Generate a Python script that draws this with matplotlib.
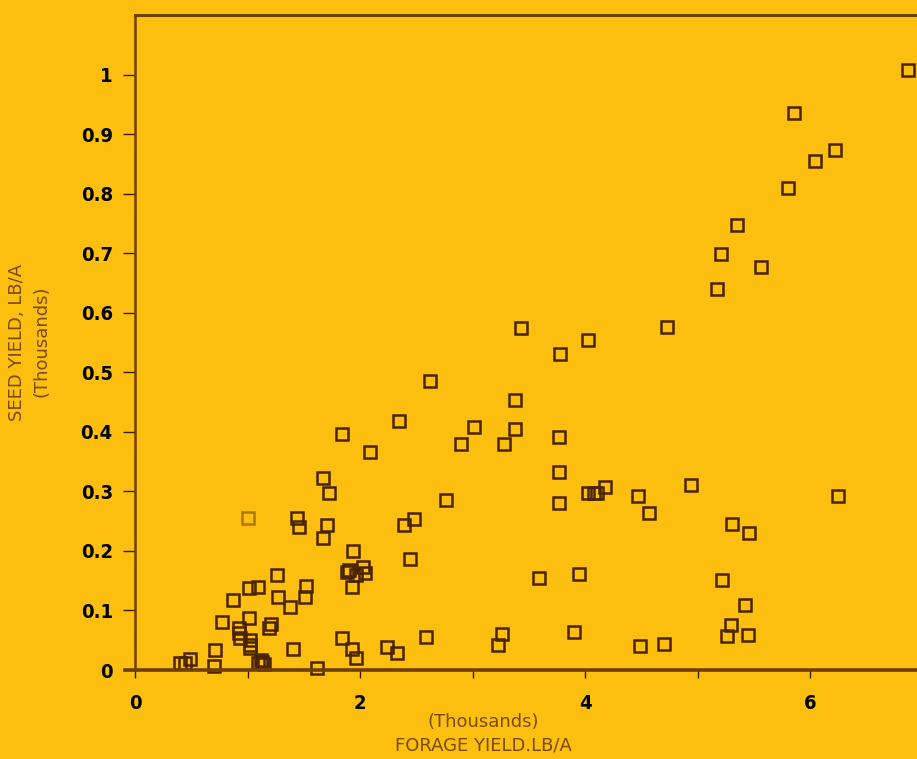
import matplotlib
matplotlib.use("Agg")
import matplotlib.pyplot as plt
from matplotlib import font_manager

# forage yield (thousands lb/A) vs seed yield (thousands lb/A)
forage = [6.87, 5.86, 6.22, 6.04, 5.80, 5.35, 5.21, 5.56, 5.17, 4.73,
          3.43, 4.03, 3.78, 2.62, 3.38, 2.35, 3.01, 3.38, 1.84, 3.77,
          2.90, 3.28, 2.09, 3.77, 1.67, 4.94, 4.18, 1.72, 4.03, 4.08,
          4.11, 4.47, 6.25, 2.76, 3.77, 4.57, 1.44, 2.48, 1.46, 1.71,
          2.39, 5.31, 5.46, 1.67, 1.94, 2.44, 1.90, 1.88, 1.96, 2.03,
          2.04, 1.93, 3.59, 3.95, 5.22, 1.26, 1.01, 1.09, 1.52, 1.51,
          1.27, 0.87, 1.38, 5.42, 0.77, 1.01, 1.21, 1.19, 0.92, 0.92,
          0.93, 1.02, 1.02, 1.02, 3.90, 3.26, 5.30, 5.26, 5.45, 1.84,
          2.59, 3.23, 4.49, 4.70, 1.40, 0.71, 1.93, 1.96, 2.24, 2.33,
          0.40, 0.44, 0.49, 0.70, 1.09, 1.12, 1.15, 1.13, 1.62]
seed = [1.008, 0.936, 0.874, 0.855, 0.810, 0.748, 0.699, 0.676, 0.640, 0.576,
        0.574, 0.555, 0.530, 0.486, 0.453, 0.419, 0.408, 0.404, 0.396, 0.392,
        0.379, 0.379, 0.366, 0.333, 0.323, 0.310, 0.307, 0.297, 0.297, 0.297,
        0.297, 0.292, 0.292, 0.286, 0.281, 0.263, 0.256, 0.253, 0.240, 0.243,
        0.244, 0.245, 0.230, 0.221, 0.200, 0.187, 0.168, 0.165, 0.160, 0.173,
        0.163, 0.140, 0.155, 0.162, 0.151, 0.160, 0.137, 0.140, 0.141, 0.122,
        0.122, 0.118, 0.105, 0.110, 0.081, 0.087, 0.078, 0.070, 0.070, 0.062,
        0.053, 0.050, 0.042, 0.037, 0.064, 0.061, 0.075, 0.057, 0.059, 0.053,
        0.055, 0.042, 0.040, 0.043, 0.036, 0.034, 0.036, 0.020, 0.039, 0.028,
        0.012, 0.012, 0.019, 0.006, 0.012, 0.016, 0.010, 0.013, 0.004]
# one faint point in the original print
faint_forage = [1.00]
faint_seed = [0.255]

x_ticks = [0, 1, 2, 3, 4, 5, 6]
x_labels = ["0", "", "2", "", "4", "", "6"]
y_ticks = [0, 0.1, 0.2, 0.3, 0.4, 0.5, 0.6, 0.7, 0.8, 0.9, 1.0]
y_labels = ["0", "0.1", "0.2", "0.3", "0.4", "0.5", "0.6", "0.7", "0.8", "0.9", "1"]

bg = "#fdbf0f"
ink = "#4a2300"
axis_col = "#6e3f05"
label_col = "#7a4a08"

names = {f.name for f in font_manager.fontManager.ttflist}
narrow = "Liberation Sans Narrow" if "Liberation Sans Narrow" in names else "DejaVu Sans"

fig = plt.figure(figsize=(9.17, 7.59), dpi=100, facecolor=bg)
ax = fig.add_axes([135 / 917, 89 / 759, 782 / 917, 655 / 759])
ax.set_facecolor(bg)

ax.plot(forage, seed, linestyle="none", marker="s", markersize=8,
        markerfacecolor="none", markeredgecolor=ink, markeredgewidth=1.8,
        clip_on=False)
ax.plot(faint_forage, faint_seed, linestyle="none", marker="s", markersize=8,
        markerfacecolor="none", markeredgecolor=ink, markeredgewidth=1.8,
        alpha=0.45)

ax.set_xlim(0, 6.95)
ax.set_ylim(0, 1.10)

ax.spines["right"].set_visible(False)
for s in ["top", "left", "bottom"]:
    ax.spines[s].set_color(axis_col)
ax.spines["top"].set_linewidth(2.2)
ax.spines["left"].set_linewidth(1.8)
ax.spines["bottom"].set_linewidth(2.6)
ax.spines["bottom"].set_bounds(-0.09, 6.95)

ax.set_xticks(x_ticks)
ax.set_xticklabels(x_labels)
ax.set_yticks(y_ticks)
ax.set_yticklabels(y_labels)
ax.tick_params(axis="y", direction="out", length=9, width=1.0, color="#3a1c00", pad=7)
ax.tick_params(axis="x", direction="out", length=6, width=1.0, color="#3a1c00", pad=11)
for lab in ax.get_xticklabels() + ax.get_yticklabels():
    lab.set_fontfamily(narrow)
    lab.set_fontweight("bold")
    lab.set_fontstretch("condensed")
    lab.set_fontsize(14.5)
    lab.set_color("black")

fig.text(483 / 917, (759 - 722) / 759, "(Thousands)", ha="center", va="center",
         fontsize=13, color=label_col, family=narrow)
fig.text(483 / 917, (759 - 745) / 759, "FORAGE YIELD.LB/A", ha="center", va="center",
         fontsize=13, color=label_col, family=narrow)
fig.text(17 / 917, (759 - 342) / 759, "SEED YIELD, LB/A", rotation=90, ha="center",
         va="center", fontsize=13, color=label_col, family=narrow)
fig.text(41 / 917, (759 - 341) / 759, "(Thousands)", rotation=90, ha="center",
         va="center", fontsize=13, color=label_col, family=narrow)

fig.savefig("out.png", dpi=100, facecolor=bg)
